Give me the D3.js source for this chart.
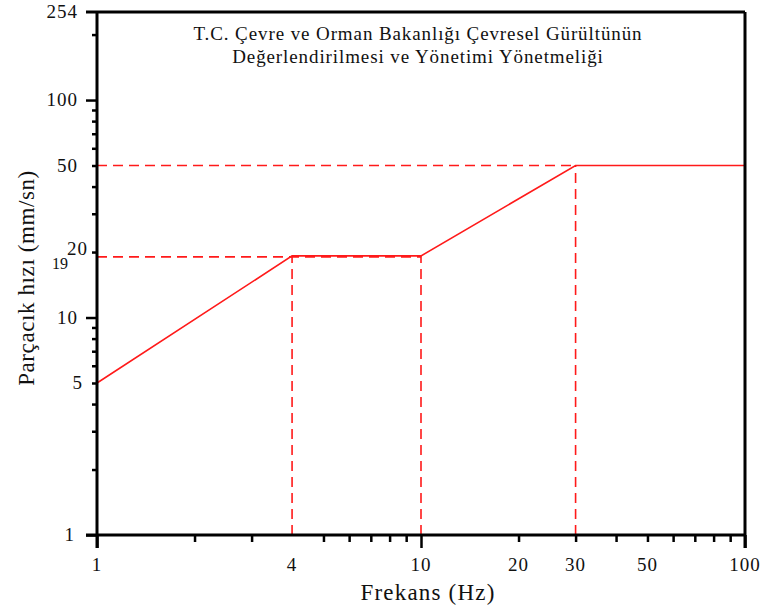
<!DOCTYPE html>
<html><head><meta charset="utf-8">
<script src="https://cdn.jsdelivr.net/npm/d3@7"></script>
<style>body{margin:0;background:#fff}svg{display:block}text{font-family:"Liberation Serif","Times New Roman",serif;fill:#111}</style>
</head><body><svg id="c" width="764" height="612"></svg>
<script>
// data
const limitFreq = [1, 4, 10, 30, 100];
const limitVel  = [5, 19.2, 19.2, 50, 50];
const refVelLines = [ {v:19, toF:10}, {v:50, toF:30} ];
const refFreqLines = [ {f:4, v:19.2}, {f:10, v:19.2}, {f:30, v:50} ];
const xTickLabels = [1, 4, 10, 20, 30, 50, 100];
const xMinor = [2,3,5,6,7,8,9,20,30,40,50,60,70,80,90];
const yTickLabels = [1, 5, 10, 20, 50, 100, 254];
const yExtraLabel = 19;
const yMinor = [2,3,4,5,6,7,8,9,20,30,40,50,60,70,80,90,200];
const title = ["T.C. Çevre ve Orman Bakanlığı Çevresel Gürültünün","Değerlendirilmesi ve Yönetimi Yönetmeliği"];
const xTitle = "Frekans (Hz)";
const yTitle = "Parçacık hızı (mm/sn)";

const svg = d3.select("#c");
const L=97, R=745, T=12, B=535;
const x = d3.scaleLog().domain([1,100]).range([L,R]);
const y = d3.scaleLog().domain([1,254]).range([B,T]);
const red="#ff1a1a";

// minor ticks
svg.append("g").attr("transform",`translate(0,${B})`)
  .call(d3.axisBottom(x).tickValues(xMinor).tickSize(7).tickFormat(""))
  .call(g=>{g.select(".domain").remove();g.selectAll("line").attr("stroke","#000").attr("stroke-width",2.5);});
svg.append("g").attr("transform",`translate(0,${B})`)
  .call(d3.axisBottom(x).tickValues([1,10,100]).tickSize(13).tickFormat(""))
  .call(g=>{g.select(".domain").remove();g.selectAll("line").attr("stroke","#000").attr("stroke-width",2.5);});
svg.append("g").attr("transform",`translate(${L},0)`)
  .call(d3.axisLeft(y).tickValues(yMinor).tickSize(5).tickFormat(""))
  .call(g=>{g.select(".domain").remove();g.selectAll("line").attr("stroke","#000").attr("stroke-width",2.5);});
svg.append("g").attr("transform",`translate(${L},0)`)
  .call(d3.axisLeft(y).tickValues([1,10,100]).tickSize(11).tickFormat(""))
  .call(g=>{g.select(".domain").remove();g.selectAll("line").attr("stroke","#000").attr("stroke-width",2.5);});

// x labels
svg.append("g").selectAll("text").data(xTickLabels).join("text")
  .attr("x",d=>x(d)).attr("y",B+36).attr("text-anchor","middle")
  .attr("font-size",19).attr("letter-spacing",1).text(d=>d);
// y labels (label right-edge / vertical nudges)
const yDx = {1:-22, 5:-14, 20:-9};
const yDy = {20:-3};
svg.append("g").selectAll("text").data(yTickLabels).join("text")
  .attr("x",d=>L+(yDx[d]||-19)).attr("y",d=>y(d)+6+(yDy[d]||0)).attr("text-anchor","end")
  .attr("font-size",19).attr("letter-spacing",1).text(d=>d);
svg.append("text").attr("x",L-29).attr("y",y(yExtraLabel)+12).attr("text-anchor","end")
  .attr("font-size",16).text(yExtraLabel);

// reference dashed lines
const dash="10,6";
svg.append("g").selectAll("line").data(refVelLines).join("line")
  .attr("x1",L).attr("x2",d=>x(d.toF)).attr("y1",d=>y(d.v)).attr("y2",d=>y(d.v))
  .attr("stroke",red).attr("stroke-width",1.6).attr("stroke-dasharray",dash);
svg.append("g").selectAll("line").data(refFreqLines).join("line")
  .attr("x1",d=>x(d.f)).attr("x2",d=>x(d.f)).attr("y1",B).attr("y2",d=>y(d.v))
  .attr("stroke",red).attr("stroke-width",1.6).attr("stroke-dasharray",dash);

// limit curve
svg.append("path").datum(limitFreq.map((f,i)=>[f,limitVel[i]]))
  .attr("d",d3.line().x(d=>x(d[0])).y(d=>y(d[1])))
  .attr("fill","none").attr("stroke",red).attr("stroke-width",1.6);

// frame / axes lines
const frame = svg.append("g").attr("stroke","#000").attr("stroke-width",3).attr("fill","none");
frame.append("line").attr("x1",86).attr("x2",R).attr("y1",T).attr("y2",T);
frame.append("line").attr("x1",R).attr("x2",R).attr("y1",T).attr("y2",B+13);
frame.append("line").attr("x1",L).attr("x2",L).attr("y1",T).attr("y2",B+13);
frame.append("line").attr("x1",86).attr("x2",R).attr("y1",B).attr("y2",B);

// title
svg.append("text").attr("x",418).attr("y",40).attr("text-anchor","middle").attr("font-size",19).attr("letter-spacing",0.9)
  .selectAll("tspan").data(title).join("tspan").attr("x",418).attr("dy",(d,i)=>i?23:0).text(d=>d);

// axis titles
svg.append("text").attr("x",428).attr("y",600).attr("text-anchor","middle").attr("font-size",23).attr("letter-spacing",1.2).text(xTitle);
svg.append("text").attr("transform","translate(34,278) rotate(-90)").attr("text-anchor","middle").attr("font-size",23).attr("letter-spacing",0.6).text(yTitle);
</script></body></html>
